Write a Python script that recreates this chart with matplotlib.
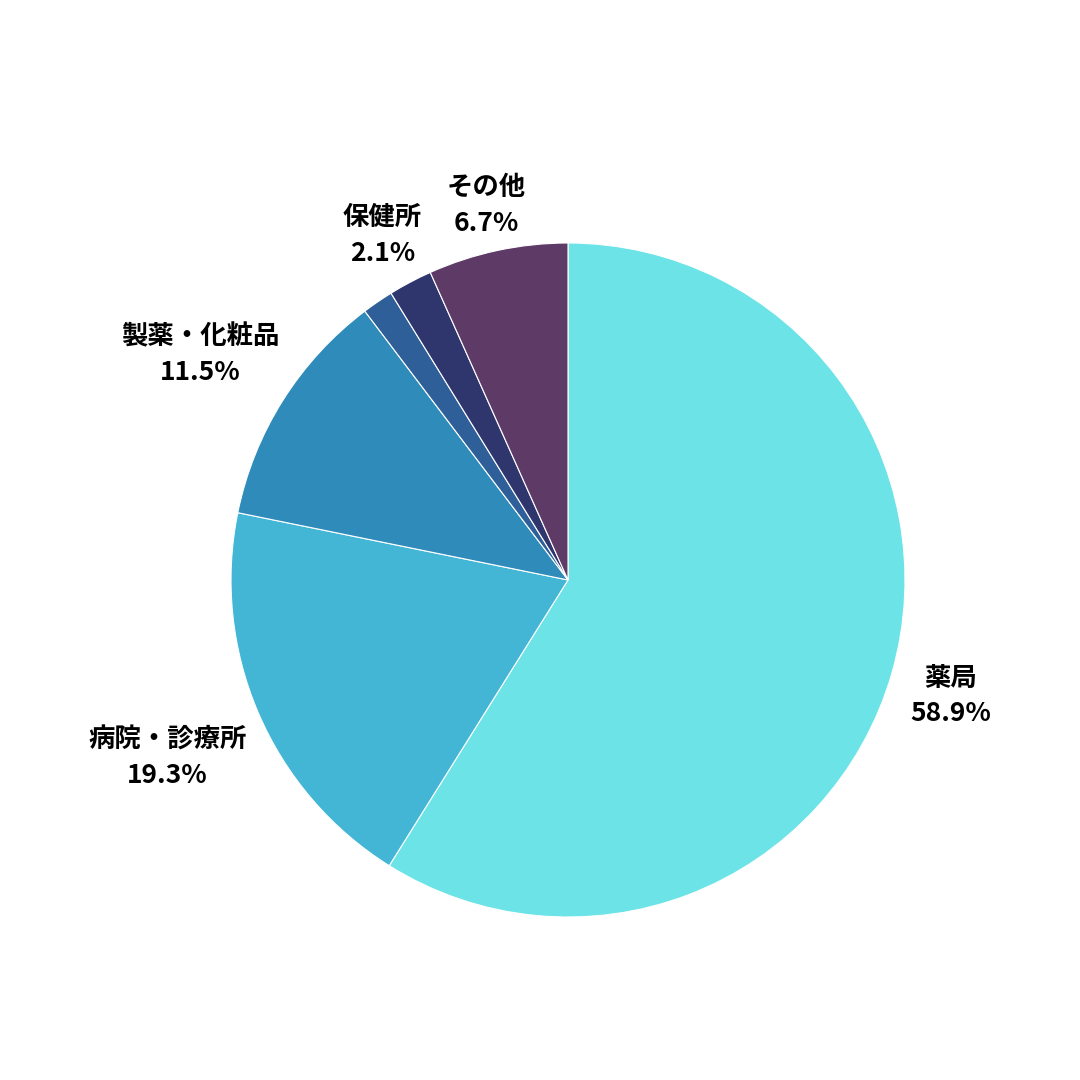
import numpy as np
import matplotlib
matplotlib.use("Agg")
import matplotlib.pyplot as plt

plt.rcParams['font.family'] = ['Noto Sans CJK JP', 'DejaVu Sans']

# data
labels = ['薬局', '病院・診療所', '製薬・化粧品', '', '保健所', 'その他']
values = [58.9, 19.3, 11.5, 1.5, 2.1, 6.7]
colors = ['#6be3e7', '#43b6d5', '#2e8bba', '#2f5f98', '#2f366e', '#5e3a67']

fig = plt.figure(figsize=(10.8, 10.8), dpi=100)
ax = fig.add_axes([0, 0, 1, 1])

wedges, _ = ax.pie(values, colors=colors, startangle=90, counterclock=False,
                   radius=1.0, wedgeprops=dict(edgecolor='white', linewidth=0.8))

# place pie center/radius like the reference (after pie, which rescales)
cx, cy, rad = 568, 500, 337
ax.set_aspect('equal')
ax.set_xlim(-cx / rad, (1080 - cx) / rad)
ax.set_ylim(-cy / rad, (1080 - cy) / rad)
ax.axis('off')

# outside labels: move along the ray until the text box clears the circle
fig.canvas.draw()
renderer = fig.canvas.get_renderer()
px = 1.0 / rad  # data units per pixel
for w, lab, val in zip(wedges, labels, values):
    if not lab:
        continue
    ang = np.deg2rad((w.theta1 + w.theta2) / 2)
    c, s = np.cos(ang), np.sin(ang)
    t = ax.text(0, 0, f'{lab}\n{val:.1f}%', ha='center', va='center',
                fontsize=19, fontweight='bold', color='black',
                linespacing=1.4)
    bb = t.get_window_extent(renderer)
    hw, hh = bb.width / 2 * px, bb.height / 2 * px
    d = 1.04 + hw * abs(c) + hh * abs(s)
    t.set_position((d * c, d * s - 6 * px))

fig.savefig('out.png', dpi=100, facecolor='white')
